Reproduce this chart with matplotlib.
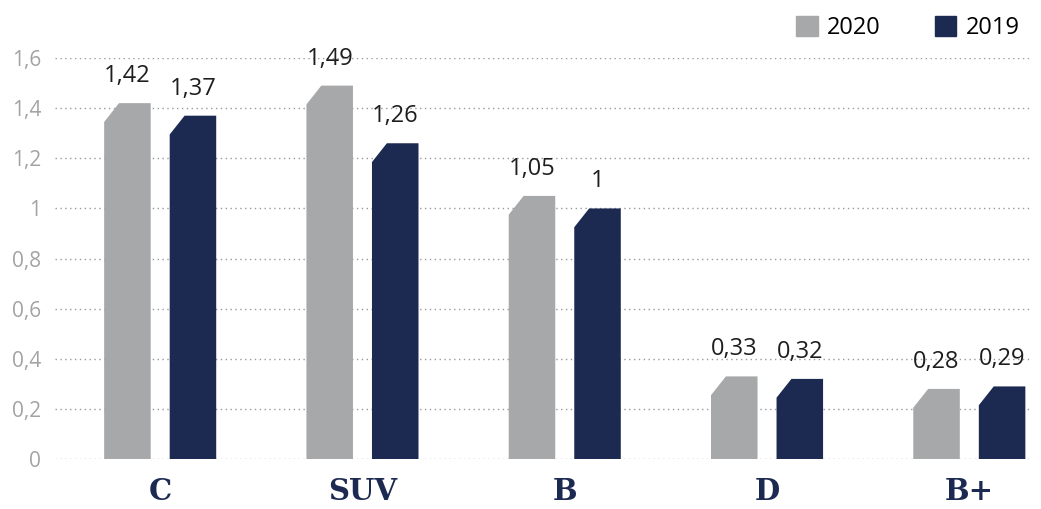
import numpy as np
import matplotlib
matplotlib.use("Agg")
import matplotlib.pyplot as plt
from matplotlib.patches import Patch

categories = ["C", "SUV", "B", "D", "B+"]
values_2020 = [1.42, 1.49, 1.05, 0.33, 0.28]
values_2019 = [1.37, 1.26, 1.0, 0.32, 0.29]
y_ticks = [0, 0.2, 0.4, 0.6, 0.8, 1.0, 1.2, 1.4, 1.6]

GREY = "#a7a8aa"
NAVY = "#1c2a52"


def fmt(v):
    s = f"{v:g}"
    return s.replace(".", ",")


def chamfer_bar(ax, xc, h, w, color, cut_x=0.32, cut_y=0.075):
    """Bar with its top-left corner cut off, like the reference."""
    x0, x1 = xc - w / 2, xc + w / 2
    cy = min(cut_y, h * 0.5)
    xs = [x0, x0, x0 + w * cut_x, x1, x1]
    ys = [0, h - cy, h, h, 0]
    ax.fill(xs, ys, color=color, lw=0, zorder=3)


plt.rcParams["font.family"] = ["Open Sans", "DejaVu Sans"]
fig = plt.figure(figsize=(10.41, 5.09), dpi=100)
ax = fig.add_axes([55 / 1041, 0.098, 975 / 1041, 0.788])

x = np.arange(len(categories))
w = 0.23
off = 0.162
for i in range(len(categories)):
    chamfer_bar(ax, x[i] - off, values_2020[i], w, GREY)
    chamfer_bar(ax, x[i] + off, values_2019[i], w, NAVY)
    ax.text(x[i] - off, values_2020[i] + 0.06, fmt(values_2020[i]),
            ha="center", va="bottom", fontsize=17, color="#1e1e1e")
    ax.text(x[i] + off, values_2019[i] + 0.06, fmt(values_2019[i]),
            ha="center", va="bottom", fontsize=17, color="#1e1e1e")

ax.set_xlim(-0.52, 4.3)
ax.set_ylim(0, 1.6)
ax.set_yticks(y_ticks)
ax.set_yticklabels([fmt(t) for t in y_ticks], color="#a3a3a3", fontsize=15)
ax.set_xticks(x)
ax.set_xticklabels(categories, family="DejaVu Serif", fontweight="bold",
                   fontsize=21, color=NAVY)
ax.tick_params(axis="both", length=0)
ax.tick_params(axis="y", pad=10)
ax.tick_params(axis="x", pad=13)
ax.grid(axis="y", linestyle=(0, (1, 2.5)), color="#9a9a9a", lw=1.0, zorder=0)
for sp in ax.spines.values():
    sp.set_visible(False)

handles = [Patch(color=GREY, label="2020"), Patch(color=NAVY, label="2019")]
fig.legend(handles=handles, loc="upper right", bbox_to_anchor=(1.0, 1.01),
           ncol=2, frameon=False, fontsize=17, handlelength=0.9,
           handleheight=0.9, handletextpad=0.4, columnspacing=2.3)

fig.savefig("out.png", dpi=100)
